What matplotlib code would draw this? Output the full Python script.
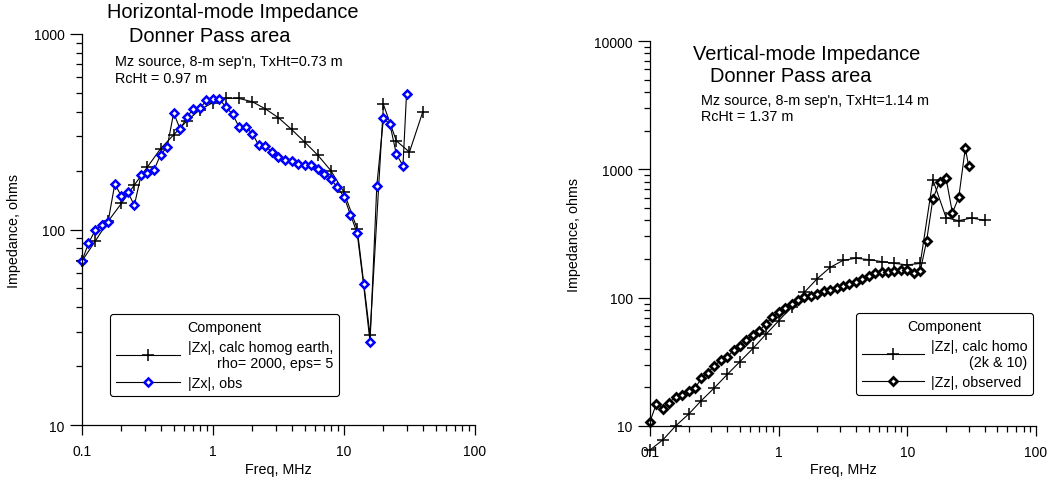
import matplotlib
matplotlib.use("Agg")
import matplotlib.pyplot as plt
from matplotlib.ticker import LogLocator, FuncFormatter, NullFormatter
from matplotlib.lines import Line2D

plt.rcParams['font.family'] = ['Liberation Sans', 'DejaVu Sans']

# frequencies (MHz)
f_obs = [0.1, 0.112, 0.126, 0.141, 0.158, 0.178, 0.2, 0.224, 0.251, 0.282,
         0.316, 0.355, 0.398, 0.447, 0.501, 0.562, 0.631, 0.708, 0.794, 0.891,
         1.0, 1.12, 1.26, 1.41, 1.58, 1.78, 2.0, 2.24, 2.51, 2.82,
         3.16, 3.55, 3.98, 4.47, 5.01, 5.62, 6.31, 7.08, 7.94, 8.91,
         10.0, 11.2, 12.6, 14.1, 15.8, 17.8, 20.0, 22.4, 25.1, 28.2, 30.0]
f_calc = [0.1, 0.126, 0.158, 0.2, 0.251, 0.316, 0.398, 0.501, 0.631, 0.794,
          1.0, 1.26, 1.58, 2.0, 2.51, 3.16, 3.98, 5.01, 6.31, 7.94,
          10.0, 12.6, 15.8, 20.0, 25.1, 31.6, 39.8]

# horizontal mode |Zx| (ohms)
zx_obs = [69, 85, 99, 105, 109, 171, 148, 155, 133, 189,
          195, 202, 241, 265, 395, 325, 376, 413, 416, 458,
          465, 465, 421, 389, 335, 333, 309, 269, 266, 250,
          234, 227, 224, 217, 213, 215, 204, 193, 181, 164,
          147, 119, 96, 52.4, 26.6, 167, 370, 346, 243, 212, 492]
zx_calc = [69, 87, 110, 136, 169, 209, 259, 305, 359, 410,
           446, 470, 468, 450, 414, 373, 325, 280, 240, 200,
           155, 101, 28.8, 436, 284, 249, 397]

# vertical mode |Zz| (ohms)
zz_obs = [10.8, 14.9, 13.6, 15.2, 16.9, 17.5, 18.9, 19.7, 23.6, 25.8,
          29.6, 32.4, 34.4, 39.0, 42.2, 47, 51, 55.2, 62.7, 70.5,
          76.7, 83, 89.8, 96.5, 101, 103.6, 107, 112, 115.5, 119,
          122.5, 128, 133, 140, 147, 156, 159, 159, 161, 163,
          165.5, 156, 161, 275, 590, 796, 851, 459, 604, 1459, 1062]
zz_calc = [6.5, 7.8, 10, 12.4, 15.8, 19.8, 25.2, 31.8, 40.2, 51.7,
           66, 84.6, 110, 141, 172, 195, 203, 198, 191, 185,
           180, 185, 828, 420, 398, 418, 400]

W, H = 1051, 481
fig = plt.figure(figsize=(W / 100, H / 100), dpi=100)

TICK_FS = 10
LAB_FS = 10.3
NOTE_FS = 10.4
TITLE_FS = 14.4
LEG_FS = 10.3


def px(x, y):
    return x / W, 1 - y / H


def setup_axes(ax, ymin, ymax, xlab_y, ylab_x):
    ax.set_xscale('log')
    ax.set_yscale('log')
    ax.set_xlim(0.1, 100)
    ax.set_ylim(ymin, ymax)
    for s in ['top', 'right']:
        ax.spines[s].set_visible(False)
    for s in ['left', 'bottom']:
        ax.spines[s].set_linewidth(0.9)
    fmt = FuncFormatter(lambda v, p: '%g' % v)
    for axis in [ax.xaxis, ax.yaxis]:
        axis.set_major_locator(LogLocator(base=10, numticks=10))
        axis.set_minor_locator(LogLocator(base=10, subs=range(2, 10), numticks=20))
        axis.set_major_formatter(fmt)
        axis.set_minor_formatter(NullFormatter())
    ax.tick_params(axis='y', which='major', direction='out', length=8.5, width=0.9, labelsize=TICK_FS, pad=4)
    ax.tick_params(axis='x', which='major', direction='out', length=7, width=0.9, labelsize=TICK_FS, pad=7)
    ax.tick_params(which='minor', direction='out', length=4.5, width=0.9)
    ax.set_xlabel('Freq, MHz', fontsize=LAB_FS)
    ax.set_ylabel('Impedance, ohms', fontsize=LAB_FS)
    ax.xaxis.set_label_coords(0.5, xlab_y)
    ax.yaxis.set_label_coords(ylab_x, 0.5)


def make_legend(ax, handles, labels, corner, hl):
    leg = ax.legend(handles, labels, title='Component', loc='upper left',
                    bbox_to_anchor=px(*corner), bbox_transform=fig.transFigure,
                    fontsize=LEG_FS, title_fontsize=LEG_FS,
                    handlelength=hl, handletextpad=0.5, borderpad=0.42, labelspacing=0.4,
                    fancybox=True, framealpha=1, edgecolor='black', borderaxespad=0)
    leg.get_frame().set_linewidth(0.8)
    for t in leg.get_texts():
        t.set_multialignment('right')
    return leg


calc_style = dict(color='black', lw=0.8, marker='+', ms=8, mew=1.1)
obs_h_style = dict(color='black', lw=0.8, marker='D', ms=4, mfc='white', mec='blue', mew=1.8)
obs_v_style = dict(color='black', lw=0.8, marker='D', ms=3.8, mfc='white', mec='black', mew=2)

# ---- left: horizontal mode
ax1 = fig.add_axes([82 / W, 1 - 426 / H, 393 / W, 391 / H])
setup_axes(ax1, 10, 1000, -0.095, -0.155)
ax1.plot(f_calc, zx_calc, clip_on=False, **calc_style)
ax1.plot(f_obs, zx_obs, clip_on=False, **obs_h_style)

fig.text(*px(107, 13), 'Horizontal-mode Impedance', fontsize=TITLE_FS, va='center')
fig.text(*px(129, 37), 'Donner Pass area', fontsize=TITLE_FS, va='center')
fig.text(*px(115, 62), "Mz source, 8-m sep'n, TxHt=0.73 m", fontsize=NOTE_FS, va='center')
fig.text(*px(115, 79), 'RcHt = 0.97 m', fontsize=NOTE_FS, va='center')

make_legend(ax1, [Line2D([], [], **calc_style), Line2D([], [], **obs_h_style)],
            ['|Zx|, calc homog earth,\nrho= 2000, eps= 5', '|Zx|, obs'], (110, 315), 4.5)

# ---- right: vertical mode
ax2 = fig.add_axes([650 / W, 1 - 427 / H, 386 / W, 385 / H])
setup_axes(ax2, 10, 10000, -0.094, -0.179)
ax2.plot(f_calc, zz_calc, clip_on=False, **calc_style)
ax2.plot(f_obs, zz_obs, clip_on=False, **obs_v_style)

fig.text(*px(693, 54), 'Vertical-mode Impedance', fontsize=TITLE_FS, va='center')
fig.text(*px(710, 77), 'Donner Pass area', fontsize=TITLE_FS, va='center')
fig.text(*px(701, 101), "Mz source, 8-m sep'n, TxHt=1.14 m", fontsize=NOTE_FS, va='center')
fig.text(*px(701, 117), 'RcHt = 1.37 m', fontsize=NOTE_FS, va='center')

make_legend(ax2, [Line2D([], [], **calc_style), Line2D([], [], **obs_v_style)],
            ['|Zz|, calc homo\n(2k & 10)', '|Zz|, observed'], (856, 314), 4.3)

fig.savefig('out.png', dpi=100)
